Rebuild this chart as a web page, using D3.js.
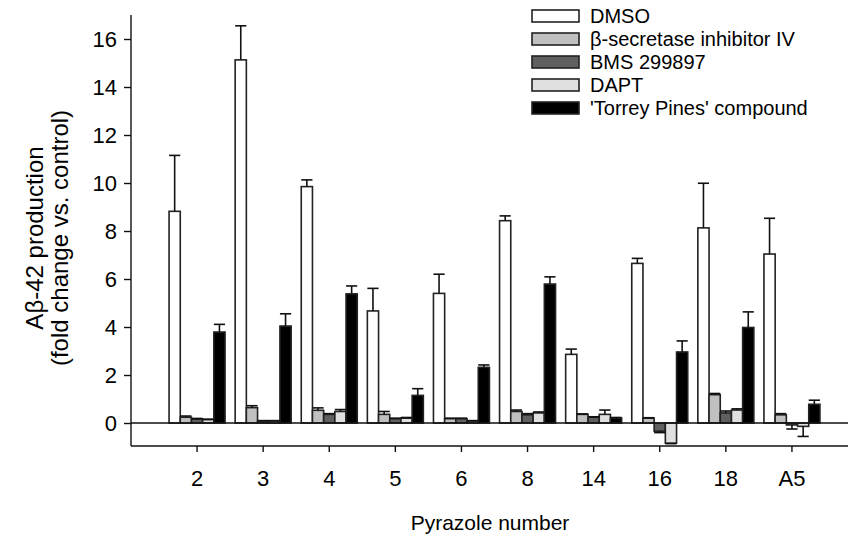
<!DOCTYPE html>
<html><head><meta charset="utf-8">
<script src="https://cdn.jsdelivr.net/npm/d3@7"></script>
<style>body{margin:0;background:#fff}svg{display:block}text{font-family:"Liberation Sans",Arial,sans-serif;fill:#000}</style>
</head><body><svg id="c" width="850" height="545"></svg>
<script>
const categories = ["2","3","4","5","6","8","14","16","18","A5"];
const seriesNames = ["DMSO","β-secretase inhibitor IV","BMS 299897","DAPT","'Torrey Pines' compound"];
const seriesColors = ["#ffffff","#c0c0c0","#606060","#e0e0e0","#000000"];
const dmso      = [8.82,15.13,9.85,4.67,5.40,8.43,2.86,6.65,8.13,7.04];
const dmsoErr   = [2.33,1.42,0.28,0.94,0.80,0.20,0.22,0.21,1.86,1.49];
const beta      = [0.24,0.64,0.53,0.36,0.18,0.48,0.36,0.20,1.18,0.34];
const betaErr   = [0.05,0.08,0.10,0.12,0.02,0.06,0.02,0.02,0.05,0.05];
const bms       = [0.16,0.08,0.36,0.18,0.18,0.34,0.24,-0.34,0.42,-0.08];
const bmsErr    = [0.03,0.02,0.03,0.02,0.02,0.05,0.02,0.06,0.08,0.17];
const dapt      = [0.14,0.08,0.48,0.20,0.08,0.42,0.36,-0.84,0.54,-0.14];
const daptErr   = [0.02,0.02,0.08,0.03,0.02,0.04,0.18,0.02,0.05,0.42];
const torrey    = [3.79,4.04,5.38,1.15,2.32,5.79,0.20,2.96,3.98,0.78];
const torreyErr = [0.32,0.51,0.33,0.28,0.10,0.30,0.03,0.46,0.65,0.17];
const yTicks = [0,2,4,6,8,10,12,14,16];

const values = [dmso,beta,bms,dapt,torrey];
const errs = [dmsoErr,betaErr,bmsErr,daptErr,torreyErr];

const svg = d3.select("#c");
const L = 131, R = 848, T = 15, B = 446;
const y = d3.scaleLinear().domain([-0.958,17]).range([B,T]);
const x = d3.scaleBand().domain(categories).range([164,825]).paddingInner(0.153).paddingOuter(0.0765);
const xs = d3.scaleBand().domain(d3.range(5)).range([0,x.bandwidth()]);

const data = [];
categories.forEach((c,i)=>{ for(let s=0;s<5;s++) data.push({c,s,v:values[s][i],e:errs[s][i]}); });
const g = svg.append("g");
g.selectAll("rect.bar").data(data).join("rect")
  .attr("x",d=>x(d.c)+xs(d.s))
  .attr("width",xs.bandwidth())
  .attr("y",d=>y(Math.max(0,d.v)))
  .attr("height",d=>Math.abs(y(d.v)-y(0)))
  .attr("fill",d=>seriesColors[d.s])
  .attr("stroke","#222").attr("stroke-width",1.6);
const eb = g.selectAll("g.eb").data(data).join("g").attr("stroke","#111").attr("stroke-width",1.6);
eb.append("line")
  .attr("x1",d=>x(d.c)+xs(d.s)+xs.bandwidth()/2).attr("x2",d=>x(d.c)+xs(d.s)+xs.bandwidth()/2)
  .attr("y1",d=>y(d.v)).attr("y2",d=>y(d.v+(d.v>=0?d.e:-d.e)));
eb.append("line")
  .attr("x1",d=>x(d.c)+xs(d.s)).attr("x2",d=>x(d.c)+xs(d.s)+xs.bandwidth())
  .attr("y1",d=>y(d.v+(d.v>=0?d.e:-d.e))).attr("y2",d=>y(d.v+(d.v>=0?d.e:-d.e)));

svg.append("line").attr("x1",L).attr("x2",R).attr("y1",y(0)).attr("y2",y(0)).attr("stroke","#111").attr("stroke-width",1.4);

const ya = svg.append("g").attr("transform",`translate(${L},0)`)
  .call(d3.axisLeft(y).tickValues(yTicks).tickSize(7).tickPadding(7).tickSizeOuter(0));
ya.select(".domain").attr("d",`M0,${T}V${B}`).attr("stroke","#111").attr("stroke-width",1.4);
ya.selectAll(".tick line").attr("stroke","#111").attr("stroke-width",1.4);
ya.selectAll("text").attr("font-size",22).attr("font-family","Liberation Sans, Arial, sans-serif").attr("fill","#000");

const xa = svg.append("g").attr("transform",`translate(0,${B})`)
  .call(d3.axisBottom(x).tickSize(6).tickPadding(18).tickSizeOuter(0));
xa.select(".domain").attr("d",`M${L},0H${R}`).attr("stroke","#111").attr("stroke-width",1.4);
xa.selectAll(".tick line").attr("stroke","#111").attr("stroke-width",1.4);
xa.selectAll("text").attr("font-size",22).attr("font-family","Liberation Sans, Arial, sans-serif").attr("fill","#000");

svg.append("text").attr("x",490).attr("y",530).attr("text-anchor","middle").attr("font-size",21).text("Pyrazole number");
const yt = svg.append("text").attr("transform","translate(0,238) rotate(-90)").attr("text-anchor","middle").attr("font-size",24);
yt.append("tspan").attr("x",0).attr("y",43).text("Aβ-42 production");
yt.append("tspan").attr("x",0).attr("y",68).text("(fold change vs. control)");

const lg = svg.append("g");
seriesNames.forEach((n,i)=>{
  const cy = 16 + i*23;
  lg.append("rect").attr("x",532).attr("y",cy-6).attr("width",47).attr("height",12)
    .attr("fill",seriesColors[i]).attr("stroke","#222").attr("stroke-width",1.6);
  lg.append("text").attr("x",590).attr("y",cy+7).attr("font-size",20).text(n);
});
</script></body></html>
